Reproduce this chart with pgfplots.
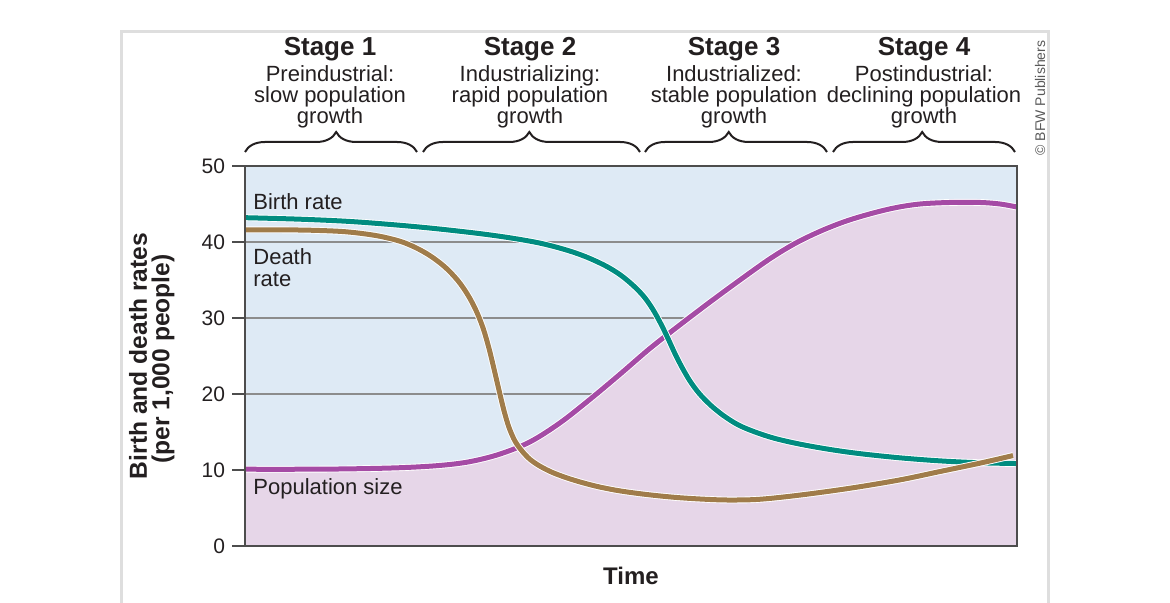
\documentclass[border=0pt]{standalone}
\usepackage{fontspec}
\setmainfont{Liberation Sans}
\usepackage{pgfplots}
\pgfplotsset{compat=1.18}
\usetikzlibrary{decorations.pathreplacing}
\definecolor{bgblue}{HTML}{DEEAF5}
\definecolor{popfill}{HTML}{E6D6E8}
\definecolor{birthc}{HTML}{008C80}
\definecolor{deathc}{HTML}{A07C4A}
\definecolor{popc}{HTML}{A54BA5}
\definecolor{txt}{HTML}{231F20}
\definecolor{gridc}{HTML}{8C8C8C}
\definecolor{framec}{HTML}{4D4D4D}

\pgfplotstableread{
x y
245 10.1
300 10.1
350 10.15
400 10.3
440 10.6
470 11.1
500 12.1
530 13.7
560 16.2
590 19.3
620 22.6
650 26.0
680 29.1
710 32.1
740 35.0
770 37.8
795 39.8
820 41.4
845 42.7
870 43.7
895 44.5
920 45.0
950 45.2
980 45.2
1000 45.0
1017 44.6
}\poptable

\pgfplotstableread{
x y
245 43.2
300 43.0
350 42.7
400 42.2
440 41.7
480 41.1
510 40.55
540 39.85
565 39.0
585 38.1
605 36.9
620 35.7
633 34.3
644 32.8
653 31.1
661 29.2
668 27.3
675 25.3
682 23.5
690 21.7
699 20.1
710 18.6
723 17.2
738 15.95
755 15.0
775 14.15
800 13.4
830 12.7
860 12.15
900 11.6
940 11.2
980 10.95
1017 10.85
}\birthtable

\pgfplotstableread{
x y
245 41.6
280 41.6
310 41.55
340 41.4
360 41.15
380 40.75
400 40.1
415 39.3
430 38.2
445 36.7
458 34.9
468 33.0
476 31.0
483 28.7
489 26.0
494 23.3
499 20.5
504 17.8
509 15.6
515 13.8
522 12.5
530 11.4
540 10.5
552 9.7
566 9.0
582 8.35
600 7.75
620 7.25
645 6.8
675 6.4
705 6.15
730 6.05
760 6.15
800 6.7
850 7.6
900 8.7
940 9.8
980 10.9
1013 11.9
}\deathtable

\begin{document}
\begin{tikzpicture}
\begin{axis}[at={(0,0)}, anchor=south west, scale only axis,
  width=386pt, height=190pt,
  xmin=245, xmax=1017, ymin=0, ymax=50,
  xtick=\empty, ytick={0,10,20,30,40,50},
  ytick pos=left, tick align=outside, major tick length=6.5pt,
  ymajorgrids, grid style={gridc, line width=0.9pt},
  axis background/.style={fill=bgblue},
  axis line style={framec, line width=1pt},
  tick style={framec, line width=1pt},
  yticklabel style={font=\fontsize{10.5}{12}\selectfont, text=txt},
  /pgf/number format/assume math mode=true]
\addplot[fill=popfill, draw=none, smooth, tension=0.55] table {\poptable} \closedcycle;
\addplot[white, line width=3.4pt, smooth, tension=0.55] table {\poptable};
\addplot[popc, line width=2.5pt, smooth, tension=0.55] table {\poptable};
\addplot[white, line width=3.4pt, smooth, tension=0.55] table {\birthtable};
\addplot[birthc, line width=2.5pt, smooth, tension=0.55] table {\birthtable};
\addplot[white, line width=3.4pt, smooth, tension=0.55] table {\deathtable};
\addplot[deathc, line width=2.5pt, smooth, tension=0.55] table {\deathtable};
\end{axis}
\draw[framec, line width=1pt] (0,0) rectangle (386pt,190pt);

\begin{scope}[x=0.5pt, y=-0.5pt, shift={(-122.5pt,273pt)}]
% outer frame
\draw[black!13, line width=1.5pt] (121.5,32) rectangle (1048.5,640);
\tikzset{st/.style={anchor=base, inner sep=0, text=txt, font=\bfseries\fontsize{13}{15}\selectfont},
         ds/.style={anchor=base, inner sep=0, text=txt, font=\fontsize{11}{13}\selectfont},
         br/.style={decorate, decoration={brace, amplitude=10pt, aspect=#1}, txt, line width=1pt}}
\node[st] at (330,56) {Stage 1};
\node[st] at (530,56) {Stage 2};
\node[st] at (734,56) {Stage 3};
\node[st] at (924,56) {Stage 4};
\node[ds] at (330,82) {Preindustrial:};
\node[ds] at (330,103) {slow population};
\node[ds] at (330,124) {growth};
\node[ds] at (530,82) {Industrializing:};
\node[ds] at (530,103) {rapid population};
\node[ds] at (530,124) {growth};
\node[ds] at (734,82) {Industrialized:};
\node[ds] at (734,103) {stable population};
\node[ds] at (734,124) {growth};
\node[ds] at (924,82) {Postindustrial:};
\node[ds] at (924,103) {declining population};
\node[ds] at (924,124) {growth};
% braces
\draw[br=0.53] (245,152) -- (417,152);
\draw[br=0.49] (423,152) -- (640,152);
\draw[br=0.46] (645,152) -- (827,152);
\draw[br=0.49] (833,152) -- (1015,152);
% annotations
\tikzset{an/.style={anchor=base west, inner sep=0, text=txt, font=\fontsize{11}{13}\selectfont}}
\node[an] at (253,210) {Birth rate};
\node[an] at (253,265) {Death};
\node[an] at (253,287) {rate};
\node[an] at (253,495) {Population size};
% axis labels
\node[anchor=base, inner sep=0, text=txt, font=\bfseries\fontsize{12}{14}\selectfont] at (631,585) {Time};
\node[rotate=90, inner sep=0, text=txt, font=\bfseries\fontsize{12.3}{14}\selectfont] at (138,356) {Birth and death rates};
\node[rotate=90, inner sep=0, text=txt, font=\bfseries\fontsize{12.3}{14}\selectfont] at (163,359) {(per 1,000 people)};
\node[rotate=90, inner sep=0, text=black!65, font=\fontsize{7}{8}\selectfont] at (1040,98) {© BFW Publishers};
\pgfresetboundingbox
\useasboundingbox (0,0) rectangle (1170,603);
\end{scope}
\end{tikzpicture}
\end{document}
